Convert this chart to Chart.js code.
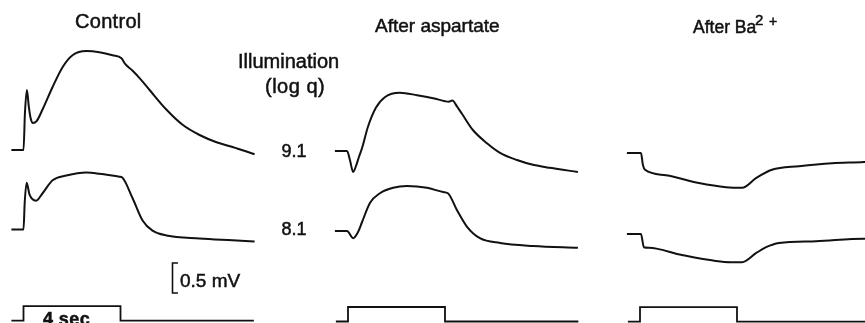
<!DOCTYPE html>
<html lang="en">
<head>
    <meta charset="UTF-8">
    <title>ERG traces</title>
    <style>
        html, body { margin: 0; padding: 0; background: #fff; overflow: hidden; }
        #wrap { position: relative; width: 865px; height: 323px; }
    </style>
</head>
<body>
    <div id="wrap"><canvas id="erg" width="865" height="323"></canvas></div>
    <script src="https://cdn.jsdelivr.net/npm/chart.js@4/dist/chart.umd.min.js"></script>
    <script>
        // responses as [time (s from light on), mV from resting level]
        const illuminations = ['9.1', '8.1']

        const control91 = [[-0.5,0],[0,0],[0.06,0.62],[0.14,1.0],[0.22,0.72],[0.3,0.52],[0.39,0.45],[0.54,0.48],
            [0.78,0.67],[1.2,1.05],[1.61,1.38],[2.02,1.58],[2.6,1.65],[3.13,1.63],[3.67,1.58],[4.04,1.53],
            [4.2,1.43],[4.5,1.32],[4.85,1.17],[5.2,1.0],[5.9,0.67],[6.56,0.42],[7.26,0.25],[7.96,0.13],[8.62,0.05],[9.53,-0.07]]
        const control81 = [[-0.5,0],[0,0],[0.05,0.45],[0.13,0.78],[0.25,0.58],[0.52,0.48],[0.78,0.6],[1.2,0.82],
            [1.77,0.9],[2.6,0.95],[3.13,0.93],[3.96,0.88],[4.06,0.87],[4.49,0.53],[4.91,0.15],[5.32,-0.02],
            [5.9,-0.1],[7.26,-0.15],[8.62,-0.18],[9.53,-0.2]]

        const aspartate91 = [[-0.54,0],[-0.04,0],[0.08,-0.15],[0.21,-0.35],[0.33,-0.25],[0.45,-0.1],[0.58,0.05],
            [0.82,0.4],[1.15,0.72],[1.53,0.9],[2.14,0.97],[2.85,0.93],[3.51,0.88],[4.0,0.83],[4.15,0.82],[4.3,0.84],
            [4.5,0.74],[4.7,0.62],[5.15,0.35],[5.73,0.13],[6.27,-0.03],[6.97,-0.15],[7.63,-0.23],[8.33,-0.28],[9.48,-0.35]]
        const aspartate81 = [[-0.54,0],[-0.04,0],[0.21,-0.12],[0.41,-0.02],[0.58,0.15],[0.91,0.47],[1.32,0.63],
            [1.86,0.72],[2.43,0.75],[3.26,0.72],[3.92,0.65],[4.12,0.63],[4.49,0.35],[4.91,0.07],[5.44,-0.12],
            [6.27,-0.2],[7.63,-0.25],[9.48,-0.28]]

        const barium91 = [[-0.54,0],[0.04,0],[0.12,-0.2],[0.21,-0.28],[1.07,-0.37],[2.43,-0.5],[3.55,-0.57],
            [4.21,-0.58],[4.78,-0.42],[5.44,-0.28],[6.56,-0.22],[7.92,-0.17],[9.24,-0.15],[9.86,-0.13]]
        const barium81 = [[-0.54,0],[0.04,0],[0.16,-0.22],[0.37,-0.23],[1.73,-0.35],[3.13,-0.45],[3.75,-0.47],
            [4.21,-0.47],[4.78,-0.32],[5.2,-0.22],[5.73,-0.15],[7.26,-0.12],[9.24,-0.08],[9.86,-0.08]]

        // light stimulus: 4 s step
        const stimTimes = [-0.5, 0, 0, 4, 4, 9.5]
        const stimLevel = [0, 0, 1, 1, 0, 0]
        const scaleBarMV = 0.5

        const W = 865, H = 323
        const PX_PER_S = 24.25, PX_PER_MV = 60, STIM_PX = 14.5

        const panels = [
            { axis: 'xc', title: 'Control', onset: 23.5, rows: [150, 229.5], stimBase: 320.7, traces: [control91, control81] },
            { axis: 'xa', title: 'After aspartate', onset: 348, rows: [151, 231], stimBase: 321.5, traces: [aspartate91, aspartate81] },
            { axis: 'xb', title: 'After Ba', onset: 640, rows: [153, 234], stimBase: 321.7, traces: [barium91, barium81] }
        ]

        const datasets = []
        const scales = {
            y: { display: false, min: -H / PX_PER_MV, max: 0 }
        }
        panels.forEach(p => {
            scales[p.axis] = { type: 'linear', display: false, min: -p.onset / PX_PER_S, max: (W - p.onset) / PX_PER_S }
            p.traces.forEach((tr, i) => {
                const off = -p.rows[i] / PX_PER_MV
                datasets.push({
                    label: p.title + ' ' + illuminations[i],
                    data: tr.map(d => ({ x: d[0], y: off + d[1] })),
                    xAxisID: p.axis, yAxisID: 'y',
                    borderColor: '#111', borderWidth: 2,
                    pointRadius: 0, cubicInterpolationMode: 'monotone', fill: false
                })
            })
            datasets.push({
                label: p.title + ' stimulus',
                data: stimTimes.map((t, k) => ({ x: t, y: -(p.stimBase - stimLevel[k] * STIM_PX) / PX_PER_MV })),
                xAxisID: p.axis, yAxisID: 'y',
                borderColor: '#111', borderWidth: 1.8,
                pointRadius: 0, tension: 0, fill: false
            })
        })

        const FONT = '"Liberation Sans", Arial, Helvetica, sans-serif'
        const texts = [
            { t: 'Control', x: 75, y: 28, size: 20, sp: 0.3 },
            { t: 'After aspartate', x: 375, y: 32, size: 19, sp: 0 },
            { t: 'After Ba', x: 693, y: 33, size: 17.5, sp: 0 },
            { t: '2', x: 755, y: 25, size: 15, sp: 0 },
            { t: '+', x: 769, y: 26, size: 14, sp: 0 },
            { t: 'Illumination', x: 238, y: 68, size: 20, sp: 0 },
            { t: '(log q)', x: 265, y: 93, size: 20, sp: 0.5 },
            { t: illuminations[0], x: 294, y: 157, size: 18, sp: 0, align: 'center' },
            { t: illuminations[1], x: 294, y: 234.5, size: 18, sp: 0, align: 'center' },
            { t: scaleBarMV + ' mV', x: 180, y: 287, size: 19, sp: 0 },
            { t: '4 sec', x: 43, y: 325, size: 18, sp: 0.4, bold: true }
        ]

        const annotations = {
            id: 'annotations',
            afterDraw(chart) {
                const ctx = chart.ctx
                const ys = chart.scales.y
                ctx.save()
                ctx.fillStyle = '#111'
                ctx.strokeStyle = '#111'
                ctx.textBaseline = 'alphabetic'
                texts.forEach(o => {
                    ctx.font = (o.bold ? 'bold ' : '') + o.size + 'px ' + FONT
                    ctx.textAlign = o.align || 'left'
                    if ('letterSpacing' in ctx) ctx.letterSpacing = o.sp + 'px'
                    ctx.fillText(o.t, o.x, o.y)
                    // scanned lettering is a little heavier than the plain face
                    ctx.lineWidth = 0.5
                    ctx.strokeText(o.t, o.x, o.y)
                })
                // calibration bracket
                const bottom = 293
                const top = ys.getPixelForValue(ys.getValueForPixel(bottom) + scaleBarMV)
                ctx.lineWidth = 1.6
                ctx.beginPath()
                ctx.moveTo(178, top)
                ctx.lineTo(172.5, top)
                ctx.lineTo(172.5, bottom)
                ctx.lineTo(178, bottom)
                ctx.stroke()
                ctx.restore()
            }
        }

        new Chart(document.getElementById('erg').getContext('2d'), {
            type: 'line',
            data: { datasets },
            options: {
                responsive: false,
                animation: false,
                parsing: false,
                layout: { padding: 0 },
                scales,
                plugins: { legend: { display: false }, tooltip: { enabled: false } }
            },
            plugins: [annotations]
        })
    </script>
</body>
</html>
